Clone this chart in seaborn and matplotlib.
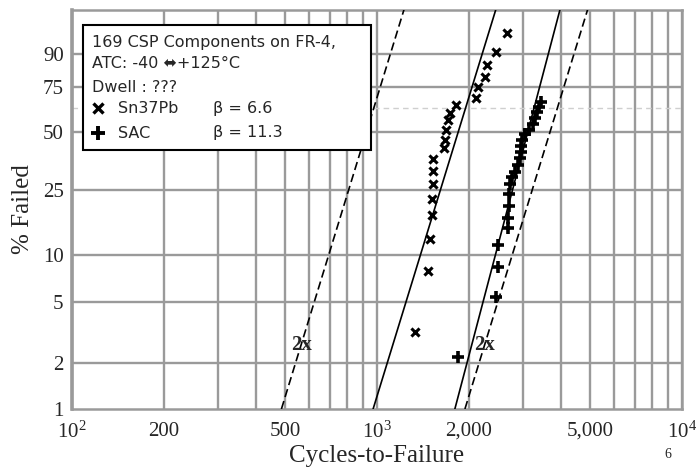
import numpy as np
import pandas as pd
import matplotlib
matplotlib.use('Agg')
import matplotlib.pyplot as plt
import seaborn as sns
from matplotlib.patches import Rectangle
from matplotlib.lines import Line2D

# ---------------- data ----------------
sn_cycles = [2660, 2460, 2300, 2260, 2150, 2110, 1820, 1735, 1715, 1685,
             1670, 1660, 1530, 1530, 1530, 1510, 1510, 1490, 1475, 1330]
sn_pct = [95.8, 90.8, 85.5, 80.1, 75.0, 69.2, 64.9, 60.6, 56.9, 51.1,
          45.8, 42.2, 37.1, 31.8, 27.1, 22.0, 17.7, 12.6, 8.0, 3.2]

sac_cycles = [1840, 2460, 2490, 2490, 2690, 2690, 2710, 2710, 2730, 2770,
              2830, 2900, 2940, 2970, 2970, 2990, 3060, 3150, 3250, 3300,
              3350, 3400, 3450]
sac_pct = [2.2, 5.4, 8.4, 11.6, 14.8, 17.0, 20.0, 23.6, 26.9, 29.4,
           31.4, 34.2, 37.2, 40.0, 42.9, 45.8, 48.9, 51.1, 54.3, 57.6,
           61.0, 63.8, 66.6]

# fitted Weibull lines: cycles at the two ends (1 % and ~99 %)
line_pct = [1.0, 99.1]
sn_half_cycles = [486, 1233]     # Sn37Pb / 2  (dashed)
sn_fit_cycles = [971, 2466]      # Sn37Pb fit (solid)
sn_double_cycles = [1942, 4932]  # Sn37Pb x 2  (dashed)
sac_fit_cycles = [1800, 4000]    # SAC fit     (solid)

y_ticks = [1, 2, 5, 10, 25, 50, 75, 90]
x_ticks = [100, 200, 500, 1000, 2000, 5000, 10000]
x_labels = [r'$\mathregular{10^2}$', '200', '500', r'$\mathregular{10^3}$',
            '2,000', '5,000', r'$\mathregular{10^4}$']

legend_lines = ['169 CSP Components on FR-4,', 'ATC: -40 \u2b0c+125\u00b0C', 'Dwell : ???']
series_names = ['Sn37Pb', 'SAC']
beta_texts = ['\u03b2 = 6.6', '\u03b2 = 11.3']


def wb(p):
    p = np.asarray(p, dtype=float) / 100.0
    return np.log(-np.log(1.0 - p))


sns.set_style('white')
plt.rcParams['font.family'] = ['Liberation Serif', 'DejaVu Serif']
plt.rcParams['mathtext.fontset'] = 'custom'
plt.rcParams['mathtext.rm'] = 'Liberation Serif'
plt.rcParams['mathtext.it'] = 'Liberation Serif:italic'

W, H = 699, 468
fig = plt.figure(figsize=(W / 100, H / 100), dpi=100)
ax = fig.add_axes([72 / W, 1 - 409 / H, 610 / W, 399 / H])

GRID = '#9a9a9a'
# grid
for v in list(range(100, 1000, 100)) + list(range(1000, 10001, 1000)):
    ax.axvline(v, color=GRID, lw=1.7, zorder=1)
for p in y_ticks[1:]:
    ax.axhline(wb(p), color=GRID, lw=1.7, zorder=1)
ax.axhline(wb(63.2), color='#cfcfcf', lw=1.0, ls=(0, (4, 3)), zorder=1)

# fit lines
lines_df = pd.DataFrame({
    'cycles': sn_half_cycles + sn_fit_cycles + sn_double_cycles + sac_fit_cycles,
    'w': list(wb(line_pct)) * 4,
    'line': ['a'] * 2 + ['b'] * 2 + ['c'] * 2 + ['d'] * 2,
})
for name, ls in zip(['a', 'b', 'c', 'd'], [(0, (5, 2.5)), '-', (0, (5, 2.5)), '-']):
    sub = lines_df[lines_df['line'] == name]
    sns.lineplot(data=sub, x='cycles', y='w', ax=ax, color='black', lw=1.2,
                 linestyle=ls, estimator=None, sort=False, zorder=3)

# data points
sn_df = pd.DataFrame({'cycles': sn_cycles, 'w': wb(sn_pct)})
sac_df = pd.DataFrame({'cycles': sac_cycles, 'w': wb(sac_pct)})
sns.scatterplot(data=sn_df, x='cycles', y='w', ax=ax, marker='x', s=34,
                color='black', linewidth=2.2, zorder=4)
sns.scatterplot(data=sac_df, x='cycles', y='w', ax=ax, marker='+', s=64,
                color='black', linewidth=2.6, zorder=4)

# 2x annotations
ax.text(565, wb(2.64), '2x', fontsize=15, fontweight='bold', ha='center',
        va='center', zorder=5)
ax.text(2250, wb(2.64), '2x', fontsize=15, fontweight='bold', ha='center',
        va='center', zorder=5)

ax.set_xscale('log')
ax.set_xlim(100, 10000)
ax.set_ylim(wb(1), wb(98.9))
ax.set_xticks(x_ticks)
ax.set_xticklabels(x_labels)
ax.xaxis.set_minor_locator(matplotlib.ticker.NullLocator())
ax.set_yticks(wb(y_ticks))
ax.set_yticklabels([str(v) for v in y_ticks])
ax.tick_params(axis='x', length=0, pad=9, labelsize=15)
ax.tick_params(axis='y', length=4, width=1.5, color=GRID, pad=2, labelsize=15)
ax.set_xlabel('Cycles-to-Failure', fontsize=18, labelpad=2)
ax.set_ylabel('% Failed', fontsize=18, labelpad=6)
for s in ax.spines.values():
    s.set_color(GRID)
    s.set_linewidth(1.8)
ax.spines['left'].set_linewidth(2.6)

# stray "6" under 10^4
fig.text(668 / W, 1 - 455 / H, '6', fontsize=10, ha='center', va='center')


def fx(px):
    return px / W


def fy(py):
    return 1 - py / H


# legend box
fig.add_artist(Rectangle((fx(83), fy(150)), (371 - 83) / W, (150 - 25) / H,
                         transform=fig.transFigure, fc='white', ec='black',
                         lw=1.5, zorder=10))
sans = ['DejaVu Sans']
for txt, py in zip(legend_lines, [42, 63, 87]):
    fig.text(fx(92), fy(py), txt, fontsize=11.5, family=sans, va='center',
             ha='left', zorder=11)
for name, beta, py, mk in zip(series_names, beta_texts, [108, 133], ['x', '+']):
    fig.add_artist(Line2D([fx(98)], [fy(py)], transform=fig.transFigure,
                          marker=mk, ms=7 if mk == 'x' else 10,
                          mew=2.4 if mk == 'x' else 2.8,
                          color='black', ls='none', zorder=11))
    fig.text(fx(118), fy(py), name, fontsize=11.5, family=sans, va='center',
             ha='left', zorder=11)
    fig.text(fx(213), fy(py), beta, fontsize=11.5, family=sans, va='center',
             ha='left', zorder=11)

fig.savefig('out.png', dpi=100)
